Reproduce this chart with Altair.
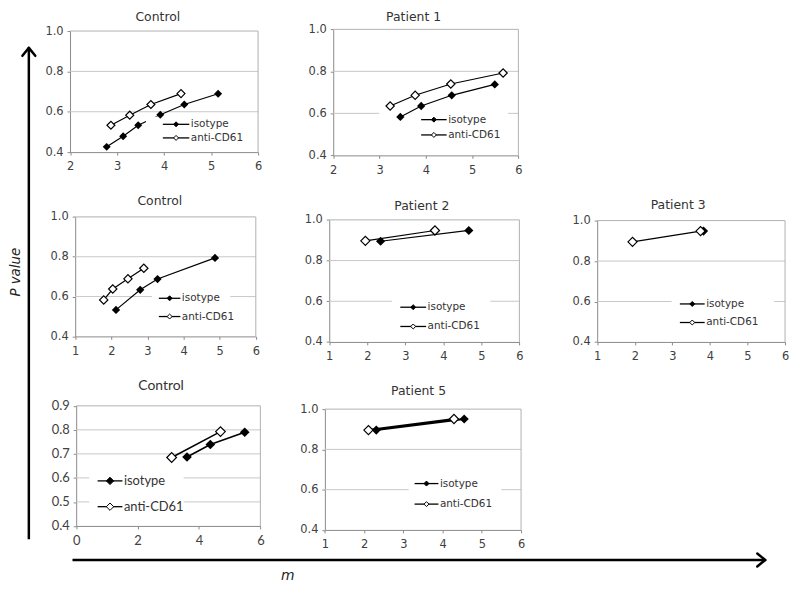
import altair as alt
import pandas as pd

W, H = 790, 577
M = 8  # page margin: all layout numbers below are page pixels

# ---------------- data ----------------
# Control (top row)
c1_iso_m = [2.78, 3.13, 3.45, 3.92, 4.43, 5.15]
c1_iso_p = [0.426, 0.479, 0.533, 0.585, 0.636, 0.689]
c1_anti_m = [2.87, 3.27, 3.72, 4.36]
c1_anti_p = [0.533, 0.583, 0.636, 0.690]
# Patient 1
p1_iso_m = [3.45, 3.90, 4.56, 5.49]
p1_iso_p = [0.583, 0.635, 0.686, 0.738]
p1_anti_m = [3.23, 3.77, 4.54, 5.67]
p1_anti_p = [0.635, 0.686, 0.740, 0.792]
# Control (middle row)
c2_iso_m = [2.13, 2.80, 3.28, 4.87]
c2_iso_p = [0.533, 0.634, 0.688, 0.794]
c2_anti_m = [1.79, 2.04, 2.46, 2.90]
c2_anti_p = [0.583, 0.638, 0.689, 0.742]
# Patient 2
p2_iso_m = [2.35, 4.67]
p2_iso_p = [0.895, 0.948]
p2_anti_m = [1.95, 3.78]
p2_anti_p = [0.897, 0.948]
# Patient 3
p3_iso_m = [3.83]
p3_iso_p = [0.948]
p3_anti_m = [1.94, 3.75]
p3_anti_p = [0.895, 0.948]
# Control (bottom row)
c3_iso_m = [3.61, 4.37, 5.49]
c3_iso_p = [0.687, 0.739, 0.790]
c3_anti_m = [3.11, 4.70]
c3_anti_p = [0.685, 0.793]
# Patient 5
p5_iso_m = [2.31, 4.55]
p5_iso_p = [0.896, 0.951]
p5_anti_m = [2.11, 4.29]
p5_anti_p = [0.896, 0.951]

series_names = ["isotype", "anti-CD61"]
x_ticks_1to6 = [1, 2, 3, 4, 5, 6]
x_ticks_2to6 = [2, 3, 4, 5, 6]
x_ticks_0to6 = [0, 2, 4, 6]
y_ticks_a = [0.4, 0.6, 0.8, 1.0]
y_ticks_b = [0.4, 0.5, 0.6, 0.7, 0.8, 0.9]

VERD = "DejaVu Sans"
CAL = "Lato"

panels = [
    dict(title="Control", iso=(c1_iso_m, c1_iso_p), anti=(c1_anti_m, c1_anti_p),
         xdom=[2, 6], xt=x_ticks_2to6, ydom=[0.4, 1.0], yt=y_ticks_a,
         xr=(70.5, 260), yr=(151, 29), tpos=(159, 14.5),
         box=(147, 252, 115, 144), lx=(164, 190.7), ly=(123, 136.7),
         font=VERD, fs=11.5, tfs=12.5, lfs=10.5, msize=64, lmsize=25, sw=1.2,
         lines_over=False, xpad=6),
    dict(title="Patient 1", iso=(p1_iso_m, p1_iso_p), anti=(p1_anti_m, p1_anti_p),
         xdom=[2, 6], xt=x_ticks_2to6, ydom=[0.4, 1.0], yt=y_ticks_a,
         xr=(335.7, 522.3), yr=(154.3, 27.3), tpos=(416.7, 14.5),
         box=(382, 512, 108, 142), lx=(424.3, 450), ly=(118.3, 133.7),
         font=VERD, fs=11.5, tfs=12.5, lfs=10.5, msize=70, lmsize=25, sw=1.2,
         lines_over=True, xpad=6),
    dict(title="Control", iso=(c2_iso_m, c2_iso_p), anti=(c2_anti_m, c2_anti_p),
         xdom=[1, 6], xt=x_ticks_1to6, ydom=[0.4, 1.0], yt=y_ticks_a,
         xr=(75.7, 257.7), yr=(336.7, 216.3), tpos=(161, 200),
         box=(153, 232, 290, 324), lx=(160, 181.7), ly=(298.3, 316.7),
         font=VERD, fs=11.5, tfs=12.5, lfs=10.5, msize=70, lmsize=25, sw=1.2,
         lines_over=False, xpad=6),
    dict(title="Patient 2", iso=(p2_iso_m, p2_iso_p), anti=(p2_anti_m, p2_anti_p),
         xdom=[1, 6], xt=x_ticks_1to6, ydom=[0.4, 1.0], yt=y_ticks_a,
         xr=(331.7, 523.3), yr=(342.3, 219.3), tpos=(425, 205),
         box=(395, 494, 295, 335), lx=(403.3, 429.3), ly=(307.3, 326.7),
         font=VERD, fs=11.5, tfs=12.5, lfs=10.5, msize=85, lmsize=25, sw=1.2,
         lines_over=False, xpad=6),
    dict(title="Patient 3", iso=(p3_iso_m, p3_iso_p), anti=(p3_anti_m, p3_anti_p),
         xdom=[1, 6], xt=x_ticks_1to6, ydom=[0.4, 1.0], yt=y_ticks_a,
         xr=(601.7, 791), yr=(342.3, 220), tpos=(683.3, 204),
         box=(676.7, 780, 296, 330), lx=(685, 710), ly=(304, 322.7),
         font=VERD, fs=11.5, tfs=12.5, lfs=10.5, msize=85, lmsize=25, sw=1.2,
         lines_over=False, xpad=6),
    dict(title="Control", iso=(c3_iso_m, c3_iso_p), anti=(c3_anti_m, c3_anti_p),
         xdom=[0, 6], xt=x_ticks_0to6, ydom=[0.4, 0.9], yt=y_ticks_b,
         xr=(76.7, 262.3), yr=(527.7, 406.7), tpos=(162.3, 387),
         box=(90, 185, 470, 517), lx=(98.3, 123.3), ly=(482.3, 508.3),
         font=CAL, fs=13, tfs=14, lfs=13, msize=95, lmsize=55, sw=1.5,
         lines_over=False, xpad=6),
    dict(title="Patient 5", iso=(p5_iso_m, p5_iso_p), anti=(p5_anti_m, p5_anti_p),
         xdom=[1, 6], xt=x_ticks_1to6, ydom=[0.4, 1.0], yt=y_ticks_a,
         xr=(327.3, 525), yr=(531.7, 410), tpos=(421.7, 392),
         box=(411.7, 505, 480, 514), lx=(417.7, 441.7), ly=(485, 505.7),
         font=VERD, fs=11.5, tfs=12.5, lfs=10.5, msize=85, lmsize=25, sw=2.0,
         lines_over=False, xpad=6),
]

ONE = pd.DataFrame({"d": [0]})


def c(v):
    return v - M


def panel(cfg):
    x0, x1 = c(cfg["xr"][0]), c(cfg["xr"][1])
    yb, yt = c(cfg["yr"][0]), c(cfg["yr"][1])

    def xs():
        return alt.Scale(domain=cfg["xdom"], range=[x0, x1], zero=False, nice=False)

    def ys():
        return alt.Scale(domain=cfg["ydom"], range=[yb, yt], zero=False, nice=False)

    font, fs = cfg["font"], cfg["fs"]
    common = dict(grid=False, domainColor="#8a8a8a", tickColor="#8a8a8a", tickSize=3,
                  labelColor="#404040", labelFont=font, labelFontSize=fs,
                  title=None, labelFlush=False, labelOverlap=False)
    xaxis = alt.Axis(orient="bottom", offset=yb - H, values=cfg["xt"], format="d",
                     labelPadding=cfg["xpad"], **common)
    yaxis = alt.Axis(orient="left", offset=-x0, values=cfg["yt"], format=".1f",
                     labelPadding=4, **common)

    rows = []
    for name, (ms, ps) in zip(series_names, [cfg["iso"], cfg["anti"]]):
        for m, p in zip(ms, ps):
            rows.append({"m": m, "p": p, "s": name})
    df = pd.DataFrame(rows)
    grid_df = pd.DataFrame({"g": cfg["yt"][1:-1]})

    layers = []
    # gridlines
    layers.append(alt.Chart(grid_df).mark_rule(color="#c8c8c8", strokeWidth=1).encode(
        y=alt.Y("g:Q", scale=ys(), axis=None), x=alt.value(x0), x2=alt.value(x1)))
    # frame top and right
    layers.append(alt.Chart(ONE).mark_rule(color="#b0b0b0", strokeWidth=1).encode(
        x=alt.value(x0), x2=alt.value(x1), y=alt.value(yt)))
    layers.append(alt.Chart(ONE).mark_rule(color="#b0b0b0", strokeWidth=1).encode(
        x=alt.value(x1), y=alt.value(yt), y2=alt.value(yb)))

    lines = alt.Chart(df).mark_line(color="black", strokeWidth=cfg["sw"]).encode(
        x=alt.X("m:Q", scale=xs(), axis=xaxis),
        y=alt.Y("p:Q", scale=ys(), axis=yaxis),
        detail="s:N")
    bx0, bx1, by0, by1 = [c(v) for v in cfg["box"]]
    box = alt.Chart(ONE).mark_rect(fill="white").encode(
        x=alt.value(bx0), x2=alt.value(bx1), y=alt.value(by0), y2=alt.value(by1))
    if cfg["lines_over"]:
        layers += [box, lines]
    else:
        layers += [lines, box]

    # data points
    iso_df = df[df.s == "isotype"]
    anti_df = df[df.s == "anti-CD61"]
    layers.append(alt.Chart(iso_df).mark_point(shape="diamond", filled=True, color="black",
                                               size=cfg["msize"], opacity=1).encode(
        x=alt.X("m:Q", scale=xs(), axis=None), y=alt.Y("p:Q", scale=ys(), axis=None)))
    layers.append(alt.Chart(anti_df).mark_point(shape="diamond", filled=True, fill="white",
                                                stroke="black", strokeWidth=1.2,
                                                size=cfg["msize"], opacity=1).encode(
        x=alt.X("m:Q", scale=xs(), axis=None), y=alt.Y("p:Q", scale=ys(), axis=None)))
    # legend entries
    lx0, lx1 = c(cfg["lx"][0]), c(cfg["lx"][1])
    lmid = (lx0 + lx1) / 2
    for name, ly, filled in zip(series_names, cfg["ly"], [True, False]):
        yy = c(ly)
        layers.append(alt.Chart(ONE).mark_rule(color="black", strokeWidth=1.3).encode(
            x=alt.value(lx0), x2=alt.value(lx1), y=alt.value(yy)))
        layers.append(alt.Chart(ONE).mark_point(
            shape="diamond", filled=True, fill="black" if filled else "white",
            stroke="black", strokeWidth=1, size=cfg["lmsize"], opacity=1).encode(
            x=alt.value(lmid), y=alt.value(yy)))
        layers.append(alt.Chart(ONE).mark_text(
            text=name, align="left", baseline="middle", font=font,
            fontSize=cfg["lfs"], color="#333333").encode(
            x=alt.value(lx1 + 1.5), y=alt.value(yy)))
    # title
    layers.append(alt.Chart(ONE).mark_text(
        text=cfg["title"], align="center", baseline="middle", font=font,
        fontSize=cfg["tfs"], color="#333333").encode(
        x=alt.value(c(cfg["tpos"][0])), y=alt.value(c(cfg["tpos"][1]))))
    return layers


all_layers = []
for p in panels:
    all_layers.extend(panel(p))

# ---------------- global arrows and titles ----------------
AW = 2.5
g = []
# vertical arrow
g.append(alt.Chart(ONE).mark_rule(color="black", strokeWidth=AW).encode(
    x=alt.value(c(29)), y=alt.value(c(47)), y2=alt.value(c(541))))
g.append(alt.Chart(ONE).mark_rule(color="black", strokeWidth=AW, strokeCap="round").encode(
    x=alt.value(c(29)), x2=alt.value(c(22.5)), y=alt.value(c(46)), y2=alt.value(c(54))))
g.append(alt.Chart(ONE).mark_rule(color="black", strokeWidth=AW, strokeCap="round").encode(
    x=alt.value(c(29)), x2=alt.value(c(35.5)), y=alt.value(c(46)), y2=alt.value(c(54))))
# horizontal arrow
g.append(alt.Chart(ONE).mark_rule(color="black", strokeWidth=AW).encode(
    x=alt.value(c(73)), x2=alt.value(c(770)), y=alt.value(c(562))))
g.append(alt.Chart(ONE).mark_rule(color="black", strokeWidth=AW, strokeCap="round").encode(
    x=alt.value(c(771)), x2=alt.value(c(763)), y=alt.value(c(562)), y2=alt.value(c(555.5))))
g.append(alt.Chart(ONE).mark_rule(color="black", strokeWidth=AW, strokeCap="round").encode(
    x=alt.value(c(771)), x2=alt.value(c(763)), y=alt.value(c(562)), y2=alt.value(c(568.5))))
# axis titles
g.append(alt.Chart(ONE).mark_text(
    text="P value", angle=270, align="center", baseline="middle", font=VERD,
    fontSize=13.5, fontStyle="italic", color="#222222").encode(
    x=alt.value(c(16)), y=alt.value(c(272))))
g.append(alt.Chart(ONE).mark_text(
    text="m", align="center", baseline="middle", font=VERD,
    fontSize=14, fontStyle="italic", color="#222222").encode(
    x=alt.value(c(290)), y=alt.value(c(578))))

chart = alt.layer(*all_layers, *g).resolve_scale(
    x="independent", y="independent"
).resolve_axis(
    x="independent", y="independent"
).properties(
    width=W, height=H, padding=0,
    autosize=alt.AutoSizeParams(type="none"),
).configure_view(stroke=None)

chart.save("out.html", embed_options={"renderer": "svg", "actions": False})
